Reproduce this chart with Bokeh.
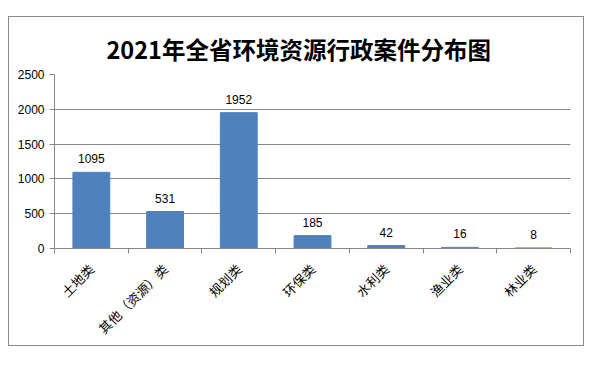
from bokeh.plotting import figure
from bokeh.models import ColumnDataSource, FixedTicker, Title
from bokeh.core.properties import value
from bokeh.embed import file_html
from bokeh.resources import INLINE
import math

categories = ["土地类", "其他（资源）类", "规划类", "环保类", "水利类", "渔业类", "林业类"]
counts = [1095, 531, 1952, 185, 42, 16, 8]
y_ticks = [0, 500, 1000, 1500, 2000, 2500]
title_text = "2021年全省环境资源行政案件分布图"

xs = [i + 0.5 for i in range(len(categories))]
src = ColumnDataSource(dict(x=xs, top=counts, label=[str(c) for c in counts]))

p = figure(width=576, height=330, output_backend="svg", toolbar_location=None,
           x_range=(0, len(categories)), y_range=(0, 2500),
           min_border_left=45, min_border_right=15, min_border_top=57, min_border_bottom=99)
p.styles = {"margin-left": "8px", "margin-top": "16px", "border": "1px solid #888888"}
p.outline_line_color = None
p.background_fill_color = "white"
p.border_fill_color = "white"

p.vbar(x="x", top="top", width=0.5, bottom=0, source=src, color="#4F81BD")
p.text(x="x", y="top", text="label", source=src, text_align="center", text_baseline="bottom",
       y_offset=-9, text_font=value("Liberation Sans"), text_font_size="12px", text_color="#000000")

gray = "#868686"
p.xgrid.visible = False
p.ygrid.ticker = FixedTicker(ticks=y_ticks)
p.ygrid.grid_line_color = gray

p.yaxis.ticker = FixedTicker(ticks=y_ticks)
p.yaxis.axis_line_color = gray
p.yaxis.major_tick_line_color = gray
p.yaxis.major_tick_out = 5
p.yaxis.major_tick_in = 0
p.yaxis.minor_tick_line_color = None
p.yaxis.major_label_standoff = 5
p.yaxis.major_label_text_font = "Liberation Sans"
p.yaxis.major_label_text_font_size = "12px"
p.yaxis.major_label_text_color = "#000000"

p.xaxis.ticker = FixedTicker(ticks=xs, minor_ticks=list(range(len(categories) + 1)))
p.xaxis.major_label_overrides = {x: c for x, c in zip(xs, categories)}
p.xaxis.axis_line_color = gray
p.xaxis.major_tick_line_color = None
p.xaxis.minor_tick_line_color = gray
p.xaxis.minor_tick_out = 5
p.xaxis.minor_tick_in = 0
p.xaxis.major_label_orientation = math.pi / 4
p.xaxis.major_label_standoff = 12
p.xaxis.major_label_text_font = "Noto Sans CJK SC"
p.xaxis.major_label_text_font_size = "13px"
p.xaxis.major_label_text_color = "#000000"

p.title = Title(text=title_text, align="left", offset=52, standoff=17,
                text_font="Noto Sans CJK SC", text_font_size="23.5px",
                text_font_style="bold", text_color="#000000")

open("out.html", "w").write(file_html(p, INLINE))
